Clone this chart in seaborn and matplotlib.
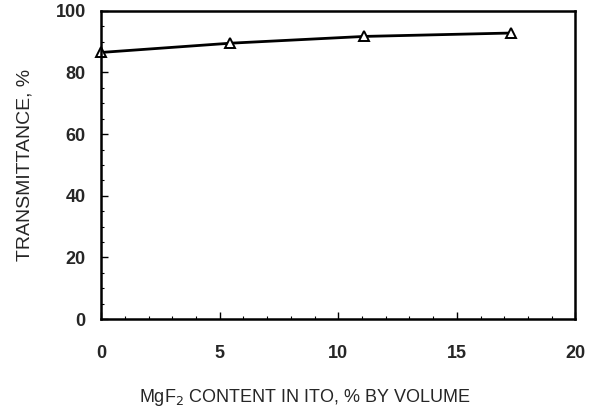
import matplotlib
matplotlib.use("Agg")
import matplotlib.pyplot as plt
import seaborn as sns
import pandas as pd
from matplotlib.ticker import MultipleLocator

mgf2_content = [0.0, 5.45, 11.1, 17.27]
transmittance = [86.5, 89.5, 91.7, 92.8]

sns.set_theme(style="ticks")
plt.rcParams['font.family'] = ['Liberation Sans', 'DejaVu Sans']

df = pd.DataFrame({"x": mgf2_content, "y": transmittance})

fig = plt.figure(figsize=(5.95, 4.17), dpi=100)
ax = fig.add_axes([0.170, 0.235, 0.797, 0.739])
sns.lineplot(data=df, x="x", y="y", ax=ax, color="black", linewidth=2.0,
             marker="^", markersize=6.5, markerfacecolor="white",
             markeredgecolor="black", markeredgewidth=1.4, clip_on=False)

ax.set_xlim(0, 20)
ax.set_ylim(0, 100)
ax.xaxis.set_major_locator(MultipleLocator(5))
ax.yaxis.set_major_locator(MultipleLocator(20))
ax.xaxis.set_minor_locator(MultipleLocator(1))
ax.yaxis.set_minor_locator(MultipleLocator(5))
ax.tick_params(which="both", direction="in", color="black")
ax.tick_params(which="major", length=5, width=1, labelsize=13)
ax.tick_params(which="minor", length=2.5, width=0.8)
ax.tick_params(axis="x", which="major", pad=19)
ax.tick_params(axis="y", which="major", pad=11)
for lbl in ax.get_xticklabels() + ax.get_yticklabels():
    lbl.set_fontweight("bold")
for s in ax.spines.values():
    s.set_visible(True)
    s.set_linewidth(1.8)
    s.set_color("black")

ax.set_xlabel("MgF$_2$ CONTENT IN ITO, % BY VOLUME", fontsize=13, labelpad=18)
ax.xaxis.label.set_x(0.43)
ax.set_ylabel("TRANSMITTANCE, %", fontsize=14, labelpad=16)

fig.savefig("out.png", dpi=100)
